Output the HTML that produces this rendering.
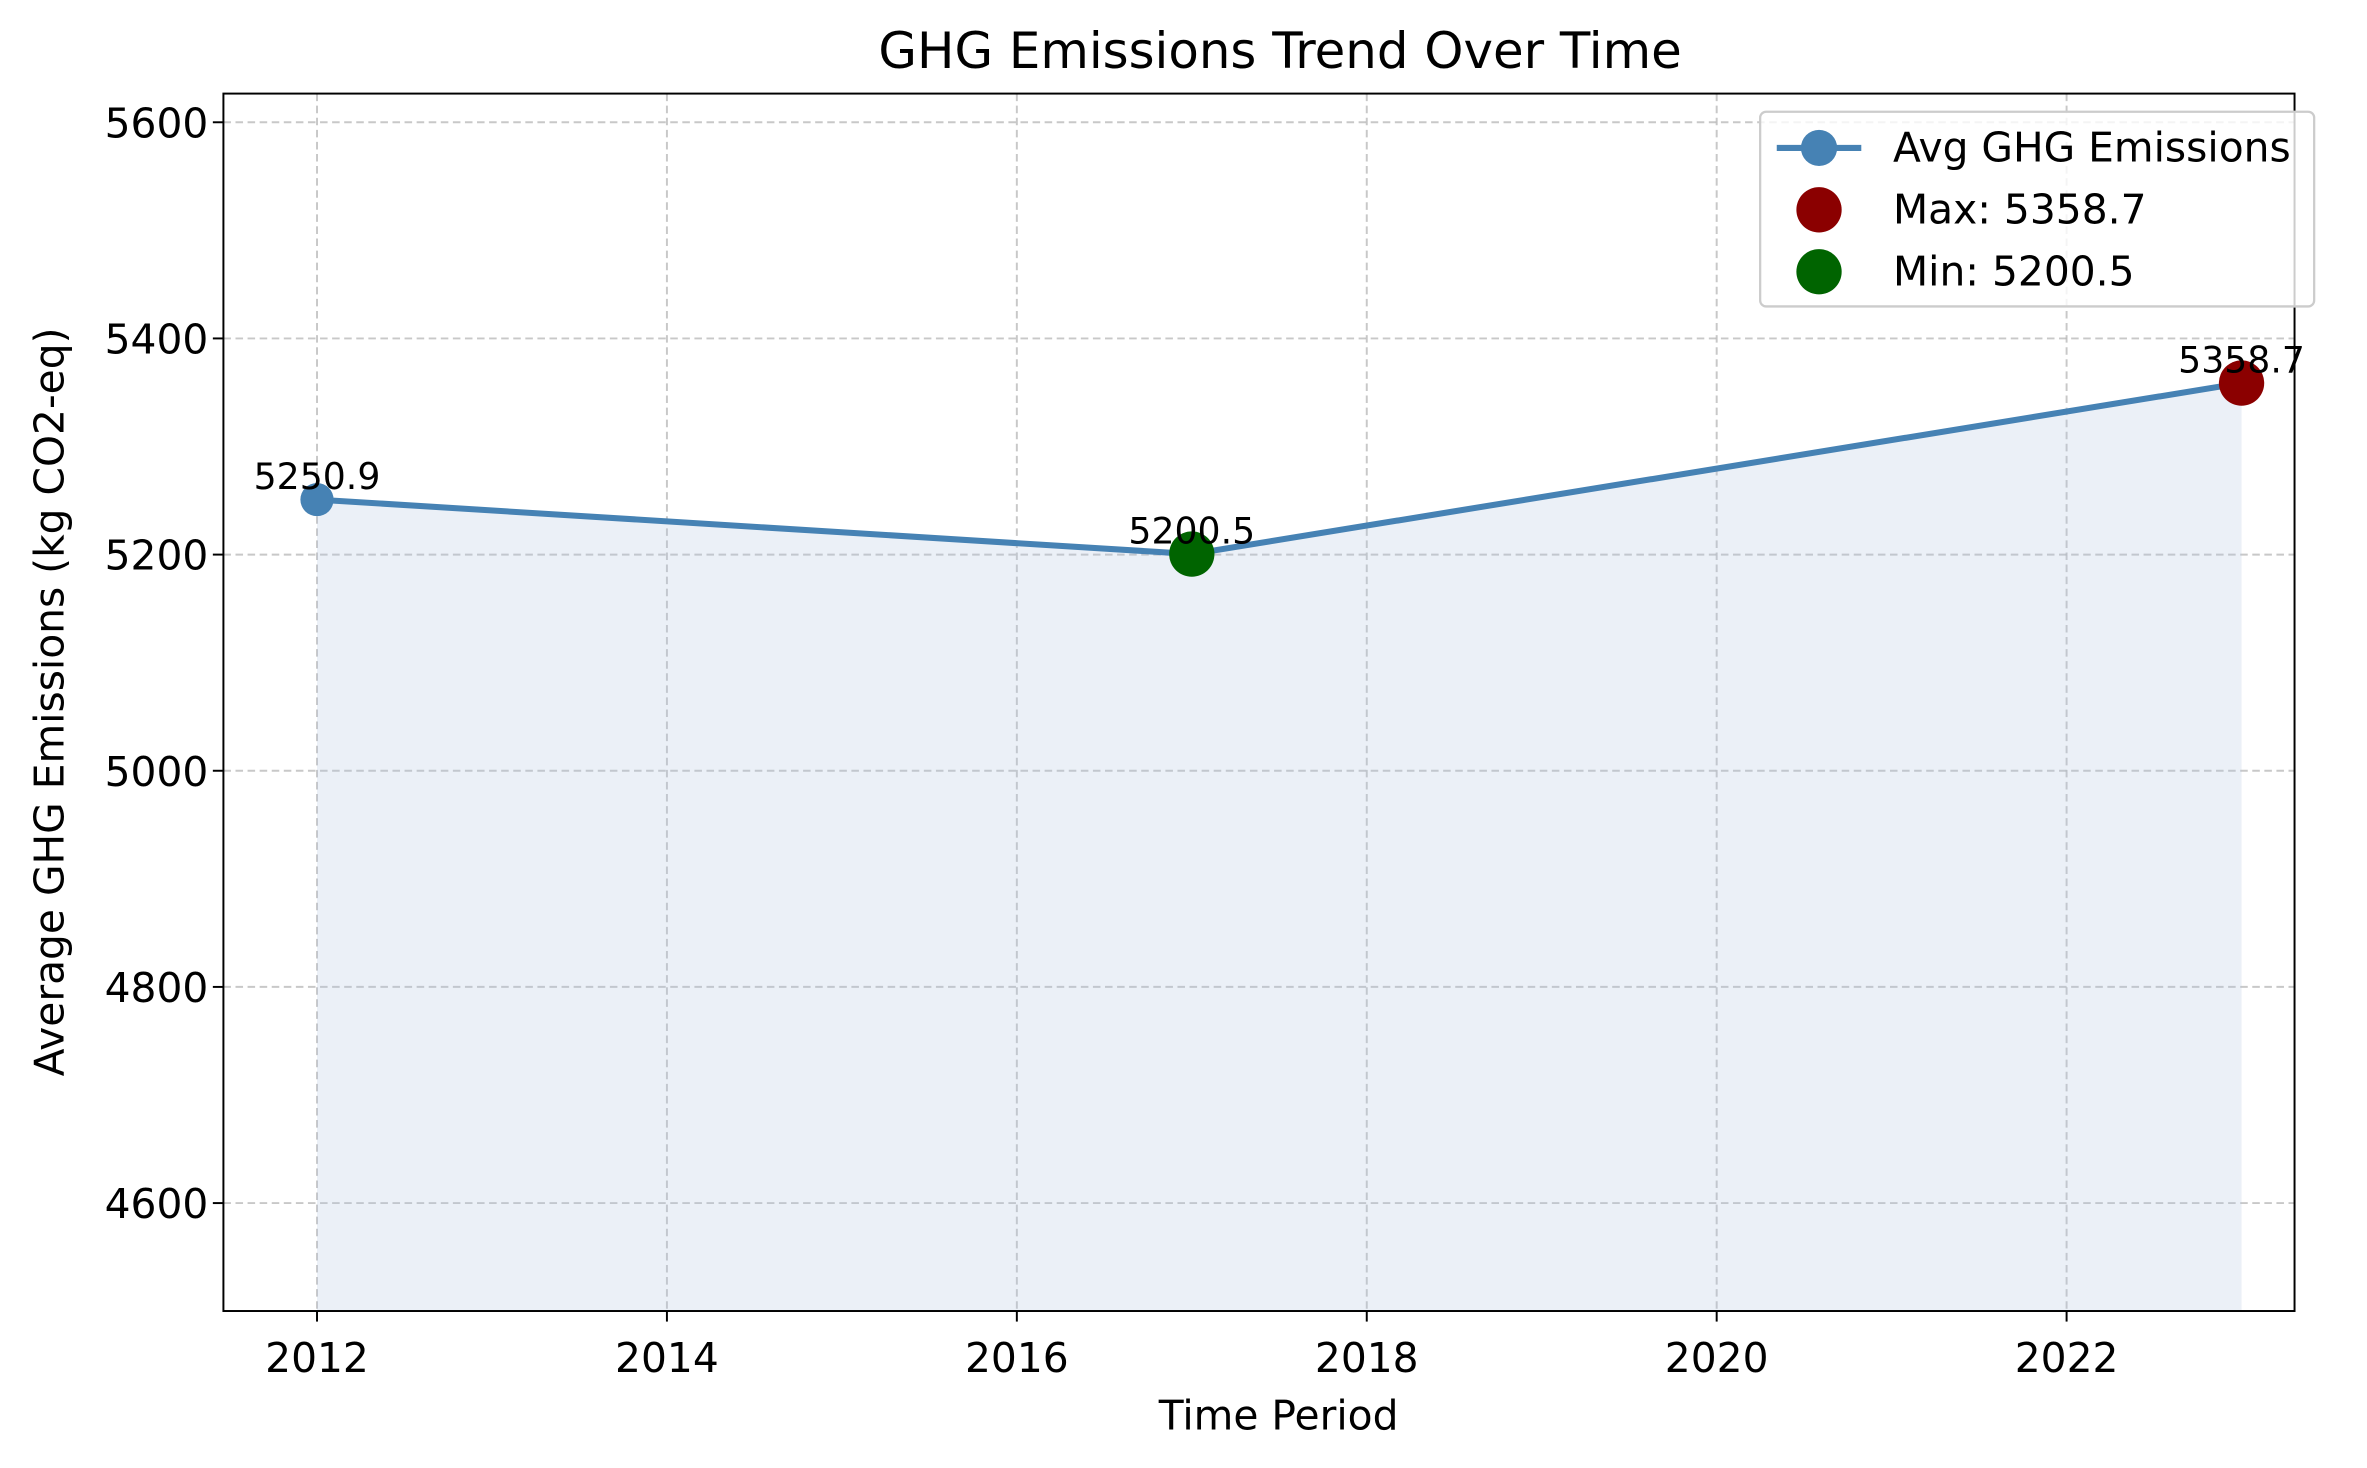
<!DOCTYPE html>
<html><head><meta charset="utf-8"><style>
html,body{margin:0;padding:0;background:#fff;}
svg{display:block;font-family:"DejaVu Sans","Liberation Sans",sans-serif;}
</style></head><body>
<svg id="chart" width="2367" height="1468" viewBox="0 0 1568 972.5" preserveAspectRatio="none" xmlns="http://www.w3.org/2000/svg">
<rect x="0" y="0" width="1568" height="972.5" fill="#fff"/>
<g id="grid"></g>
<g id="area"></g>
<g id="series"></g>
<rect x="148" y="62" width="1372" height="806.5" fill="none" stroke="#000" stroke-width="1.3"/>
<g id="ticks"></g>
<text x="848" y="45" font-size="33" text-anchor="middle">GHG Emissions Trend Over Time</text>
<text x="847" y="947" font-size="27" text-anchor="middle">Time Period</text>
<text transform="translate(42,465) rotate(-90)" font-size="27" text-anchor="middle">Average GHG Emissions (kg CO2-eq)</text>
<g>
<rect x="1166" y="74" width="367" height="129" rx="4" fill="#fff" fill-opacity="0.8" stroke="#ccc" stroke-width="1.5"/>
<line x1="1177" y1="98" x2="1233" y2="98" stroke="#4682b4" stroke-width="4"/>
<circle cx="1205" cy="98" r="12" fill="#4682b4"/>
<text x="1254" y="107" font-size="27">Avg GHG Emissions</text>
<circle cx="1205" cy="139" r="15" fill="#8b0000"/>
<text id="legMax" x="1254" y="148" font-size="27">Max: 5358.7</text>
<circle cx="1205" cy="180" r="15" fill="#006400"/>
<text id="legMin" x="1254" y="189" font-size="27">Min: 5200.5</text>
</g>
</svg>
<script>
const years = [2012, 2017, 2023];
const values = [5250.9, 5200.5, 5358.7];
const xTicks = [2012, 2014, 2016, 2018, 2020, 2022];
const yTicks = [4600, 4800, 5000, 5200, 5400, 5600];

const NS = "http://www.w3.org/2000/svg";
const L = 148, R = 1520, T = 62, B = 868.5;
const xs = v => 210 + (v - 2012) * (1369 - 210) / 10;
const ys = v => 797 - (v - 4600) * (797 - 81) / 1000;
function mk(tag, attrs, parent) {
  const e = document.createElementNS(NS, tag);
  for (const k in attrs) e.setAttribute(k, attrs[k]);
  parent.appendChild(e);
  return e;
}
const grid = document.getElementById('grid'), ticks = document.getElementById('ticks');
xTicks.forEach(t => {
  const x = xs(t);
  const g = mk('line', {x1: x, x2: x, y1: T, y2: B, stroke: '#b0b0b0', 'stroke-opacity': 0.7, 'stroke-dasharray': '5,3', 'stroke-width': 1.3}, grid);
  
  
  const tk = mk('line', {x1: x, x2: x, y1: B, y2: B + 7, stroke: '#000', 'stroke-width': 1.3}, ticks);
  
  
  const lb = mk('text', {x: x, y: 909, 'font-size': 27, 'text-anchor': 'middle'}, ticks);
  lb.textContent = t;
  
  
});
yTicks.forEach(t => {
  const y = ys(t);
  const g = mk('line', {x1: L, x2: R, y1: y, y2: y, stroke: '#b0b0b0', 'stroke-opacity': 0.7, 'stroke-dasharray': '5,3', 'stroke-width': 1.3}, grid);
  
  
  const tk = mk('line', {x1: L - 7, x2: L, y1: y, y2: y, stroke: '#000', 'stroke-width': 1.3}, ticks);
  
  
  const lb = mk('text', {x: L - 10, y: y + 10, 'font-size': 27, 'text-anchor': 'end'}, ticks);
  lb.textContent = t;
  
  
});
const pts = years.map((y, i) => [xs(y), ys(values[i])]);
let d = 'M' + pts[0][0] + ',' + B + ' ' + pts.map(p => 'L' + p[0] + ',' + p[1]).join(' ') + ' L' + pts[pts.length - 1][0] + ',' + B + ' Z';
const area = mk('path', {d: d, fill: '#b0c4de', 'fill-opacity': 0.25}, document.getElementById('area'));


const s = document.getElementById('series');
const line = mk('polyline', {points: pts.map(p => p.join(',')).join(' '), fill: 'none', stroke: '#4682b4', 'stroke-width': 4, 'stroke-linejoin': 'round'}, s);


let maxI = 0, minI = 0;
values.forEach((v, i) => { if (v > values[maxI]) maxI = i; if (v < values[minI]) minI = i; });
pts.forEach((p, i) => {
  const c = mk('circle', {cx: p[0], cy: p[1], r: 11, fill: '#4682b4'}, s);
  
  
});
[[maxI, '#8b0000', 'max-marker'], [minI, '#006400', 'min-marker']].forEach(([i, col, nm]) => {
  const c = mk('circle', {cx: pts[i][0], cy: pts[i][1], r: 15, fill: col}, s);
  
  
});
pts.forEach((p, i) => {
  const t = mk('text', {x: p[0], y: p[1] - 7, 'font-size': 24, 'text-anchor': 'middle'}, s);
  t.textContent = values[i].toFixed(1);
  
  
});
document.getElementById('legMax').textContent = 'Max: ' + values[maxI].toFixed(1);
document.getElementById('legMin').textContent = 'Min: ' + values[minI].toFixed(1);
</script>
</body></html>
